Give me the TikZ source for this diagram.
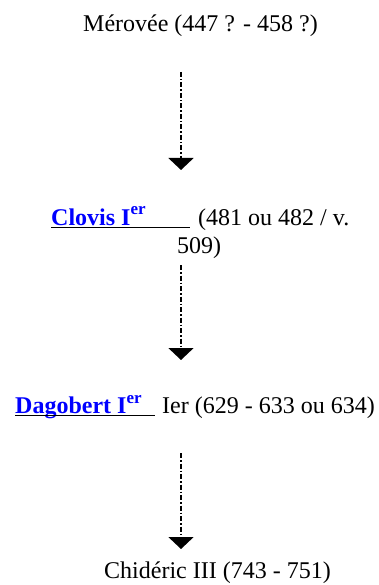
\documentclass[tikz,border=0pt]{standalone}
\usepackage{fontspec}
\setmainfont{Liberation Serif}
\usetikzlibrary{arrows.meta}
\definecolor{linkblue}{RGB}{0,0,255}
\begin{document}
\begin{tikzpicture}[x=1pt,y=-1pt,
  txt/.style={inner sep=0pt, anchor=base west, font=\fontsize{24}{28}\selectfont},
  link/.style={inner sep=0pt, anchor=base west, text=linkblue, font=\fontsize{24}{28}\selectfont\bfseries},
  flow/.style={line width=1.9pt, dash pattern=on 5pt off 2pt on 1.5pt off 2pt, -{Triangle[width=25pt,length=12pt]}},
  uline/.style={line width=1.4pt, draw=black}]
\useasboundingbox (0,0) rectangle (378,585);
% texts
\node[txt] (merovee) at (83,32) {Mérovée (447 ? - 458 ?)};
\node[link] (clovis) at (51,225) {Clovis I\raisebox{10pt}{\fontsize{17}{17}\selectfont er}};
\node[txt] (clovisdates) at (198,225) {(481 ou 482 / v.};
\node[txt] (clovisdatesb) at (177,253) {509)};
\node[link] (dagobert) at (15,413) {Dagobert I\raisebox{10pt}{\fontsize{17}{17}\selectfont er}};
\node[txt] (dagobertdates) at (162,413) {Ier (629 - 633 ou 634)};
\node[txt] (childeric) at (104,578) {Chidéric III (743 - 751)};
% underlines
\coordinate (ucs) at (51,227.5);
\coordinate (uce) at (190,227.5);
\coordinate (uds) at (15,415.5);
\coordinate (ude) at (155,415.5);
\draw[uline] (ucs) -- (uce);
\draw[uline] (uds) -- (ude);
% connectors
\coordinate (a1s) at (181,72);
\coordinate (a1e) at (181,170);
\coordinate (a2s) at (181,265);
\coordinate (a2e) at (181,360);
\coordinate (a3s) at (181,453);
\coordinate (a3e) at (181,549);
\draw[flow] (a1s) -- (a1e);
\draw[flow] (a2s) -- (a2e);
\draw[flow] (a3s) -- (a3e);
\end{tikzpicture}
\end{document}
